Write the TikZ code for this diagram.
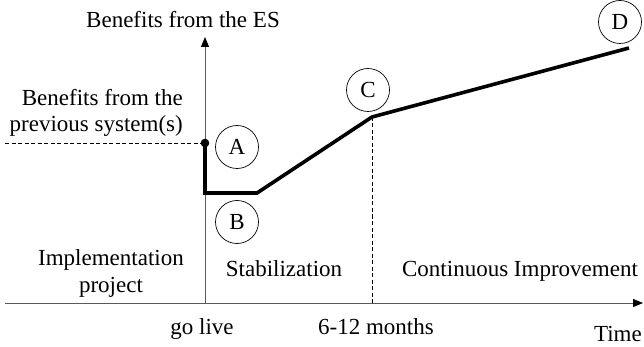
\documentclass[tikz,border=0pt]{standalone}
\usepackage{fontspec}
\setmainfont{Liberation Serif}
\usetikzlibrary{arrows.meta}
\begin{document}
\begin{tikzpicture}[x=1pt,y=-1pt,
  lbl/.style={font=\fontsize{23}{27}\selectfont, inner sep=0pt, anchor=base},
  axis/.style={draw=black!65, line width=1pt, -{Triangle[length=10pt,width=8pt,color=black]}},
  curve/.style={line width=3.6pt, line join=miter, line cap=butt},
  guide/.style={line width=0.7pt, dash pattern=on 4pt off 2.5pt},
  mark circle/.style={circle, draw, line width=0.7pt, minimum size=43pt, inner sep=0pt, font=\fontsize{23}{27}\selectfont}]
\useasboundingbox (0,0) rectangle (644,347);
% key points
\coordinate (O) at (205,303);
\coordinate (ytop) at (205,37);
\coordinate (xleft) at (5,303);
\coordinate (xright) at (643,303);
\coordinate (P) at (205,143);
\coordinate (Pd) at (205,193);
\coordinate (Q) at (257,193);
\coordinate (R) at (372,117);
\coordinate (S) at (629,48);
\coordinate (dl) at (5,143);
\coordinate (Rb) at (372,303);
% axes
\draw[axis] (O) -- (ytop);
\draw[axis] (xleft) -- (xright);
% guides
\draw[guide] (dl) -- (P);
\draw[guide] (R) -- (Rb);
% curve
\draw[curve] (P) -- (Pd) -- (Q) -- (R) -- (S);
\fill (P) circle (4.3pt);
% circles
\node[mark circle] (A) at (237,147) {A};
\node[mark circle] (B) at (237,222) {B};
\node[mark circle] (C) at (368,90) {C};
\node[mark circle] (D) at (620,22) {D};
% labels
\node[lbl] (yl) at (183,28) {Benefits from the ES};
\node[lbl, anchor=base east] (p1) at (183,106) {Benefits from the};
\node[lbl, anchor=base east] (p2) at (183,132) {previous system(s)};
\node[lbl] (im1) at (111,265) {Implementation};
\node[lbl] (im2) at (111,292) {project};
\node[lbl] (st) at (284,276) {Stabilization};
\node[lbl] (ci) at (520,276) {Continuous Improvement};
\node[lbl] (gl) at (202,334) {go live};
\node[lbl] (m6) at (376,334) {6-12 months};
\node[lbl, anchor=base east] (tm) at (642,341) {Time};
\end{tikzpicture}
\end{document}
